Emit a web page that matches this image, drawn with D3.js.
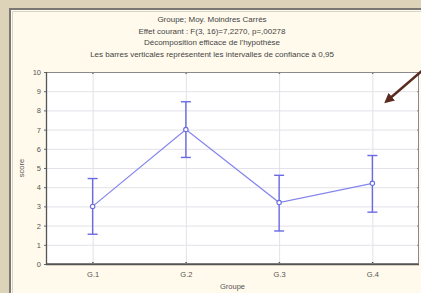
<!DOCTYPE html>
<html>
<head>
<meta charset="utf-8">
<script src="https://cdn.jsdelivr.net/npm/d3@7"></script>
<style>
  html, body { margin: 0; padding: 0; background: #ddd3b9; }
  svg { display: block; font-family: "Liberation Sans", Arial, sans-serif; }
</style>
</head>
<body>
<svg width="421" height="293"></svg>
<script>
const groups = ['G.1', 'G.2', 'G.3', 'G.4'];
const means = [3.0, 7.0, 3.2, 4.2];
const lower = [1.55, 5.55, 1.72, 2.7];
const upper = [4.45, 8.45, 4.62, 5.65];
const yTicks = [0, 1, 2, 3, 4, 5, 6, 7, 8, 9, 10];
const titles = [
  'Groupe; Moy. Moindres Carrés',
  'Effet courant : F(3, 16)=7,2270, p=,00278',
  'Décomposition efficace de l\'hypothèse',
  'Les barres verticales représentent les intervalles de confiance à 0,95'
];

const svg = d3.select('svg');
const pLeft = 46, pRight = 419, pTop = 72, pBottom = 264;

// panel behind chart
svg.append('rect').attr('x', 9).attr('y', 8).attr('width', 430).attr('height', 300)
  .attr('fill', '#fffaec');
svg.append('path').attr('d', 'M10,300V9H430').attr('fill', 'none')
  .attr('stroke', '#7a7872').attr('stroke-width', 2);
svg.append('path').attr('d', 'M12.5,300V11.5H430').attr('fill', 'none')
  .attr('stroke', '#d6d3cb').attr('stroke-width', 1);

const x = d3.scalePoint().domain(groups).range([pLeft, pRight]).padding(0.5);
const y = d3.scaleLinear().domain([0, 10]).range([pBottom, pTop]);

svg.append('rect').attr('x', pLeft).attr('y', pTop)
  .attr('width', pRight - pLeft).attr('height', pBottom - pTop).attr('fill', '#fff');

// grid
svg.append('g').selectAll('line').data(yTicks.slice(1, -1)).join('line')
  .attr('x1', pLeft).attr('x2', pRight)
  .attr('y1', d => y(d) + 0.5).attr('y2', d => y(d) + 0.5)
  .attr('stroke', '#e2e2e8');
svg.append('g').selectAll('line').data(groups).join('line')
  .attr('x1', d => x(d) + 0.5).attr('x2', d => x(d) + 0.5)
  .attr('y1', pTop).attr('y2', pBottom)
  .attr('stroke', '#e2e2e8');

// axes
const yAxis = svg.append('g').attr('transform', `translate(${pLeft},0)`)
  .call(d3.axisLeft(y).tickValues(yTicks).tickSize(2).tickPadding(3));
const xAxis = svg.append('g').attr('transform', `translate(0,${pBottom})`)
  .call(d3.axisBottom(x).tickSize(0).tickPadding(8));
[yAxis, xAxis].forEach(a => {
  a.select('.domain').remove();
  a.selectAll('text').attr('font-size', 7.5).attr('fill', '#555').attr('font-family', '"Liberation Sans", Arial, sans-serif');
  a.selectAll('line').attr('stroke', '#666');
});
svg.append('g').attr('transform', `translate(${pRight},0)`)
  .call(d3.axisLeft(y).tickValues(yTicks).tickSize(2).tickFormat(''))
  .call(g => g.select('.domain').remove())
  .selectAll('line').attr('stroke', '#888');
svg.append('g').selectAll('rect').data(groups).join('rect')
  .attr('x', d => x(d) - 0.5).attr('y', pTop).attr('width', 1.5).attr('height', 2).attr('fill', '#777');
svg.append('g').selectAll('rect').data(groups).join('rect')
  .attr('x', d => x(d) - 0.5).attr('y', pBottom - 2).attr('width', 1.5).attr('height', 2).attr('fill', '#555');

// frame
svg.append('rect').attr('x', pLeft + 0.5).attr('y', pTop + 0.5)
  .attr('width', pRight - pLeft - 1).attr('height', pBottom - pTop - 1)
  .attr('fill', 'none').attr('stroke', '#8a8a8a');
svg.append('path').attr('d', `M${pLeft + 0.5},${pTop}V${pBottom + 0.5}H${pRight}`)
  .attr('fill', 'none').attr('stroke', '#555').attr('stroke-width', 1.3);

// mean line
const pts = groups.map((g, i) => [x(g), y(means[i])]);
svg.append('path').attr('d', d3.line()(pts))
  .attr('fill', 'none').attr('stroke', '#8484ee').attr('stroke-width', 1.2);

// error bars
const eb = svg.append('g').attr('stroke', '#6a6ae4').attr('stroke-width', 1.4).attr('fill', 'none');
groups.forEach((g, i) => {
  const cx = x(g);
  eb.append('line').attr('x1', cx).attr('x2', cx).attr('y1', y(lower[i])).attr('y2', y(upper[i]));
  [lower[i], upper[i]].forEach(v => {
    eb.append('line').attr('x1', cx - 5).attr('x2', cx + 5).attr('y1', y(v)).attr('y2', y(v));
  });
});
svg.append('g').selectAll('circle').data(pts).join('circle')
  .attr('cx', d => d[0]).attr('cy', d => d[1]).attr('r', 2.2)
  .attr('fill', '#fff').attr('stroke', '#6a6ae4').attr('stroke-width', 1.1);

// titles
svg.append('g').selectAll('text').data(titles).join('text')
  .attr('x', 212).attr('y', (d, i) => 22 + i * 11.5)
  .attr('text-anchor', 'middle').attr('font-size', 8).attr('fill', '#444')
  .text(d => d);

svg.append('text').attr('x', (pLeft + pRight) / 2).attr('y', 289)
  .attr('text-anchor', 'middle').attr('font-size', 7.5).attr('fill', '#555').text('Groupe');
svg.append('text').attr('transform', `translate(24,${(pTop + pBottom) / 2}) rotate(-90)`)
  .attr('text-anchor', 'middle').attr('font-size', 7.5).attr('fill', '#555').text('score');

// annotation arrow
svg.append('defs').append('marker').attr('id', 'ah')
  .attr('viewBox', '0 0 10 10').attr('refX', 5).attr('refY', 5)
  .attr('markerWidth', 4).attr('markerHeight', 4).attr('orient', 'auto')
  .append('path').attr('d', 'M0,0L10,5L0,10z').attr('fill', '#5b2a1e');
svg.append('line').attr('x1', 423).attr('y1', 70).attr('x2', 388).attr('y2', 100)
  .attr('stroke', '#5b2a1e').attr('stroke-width', 2.5).attr('marker-end', 'url(#ah)');
</script>
</body>
</html>
